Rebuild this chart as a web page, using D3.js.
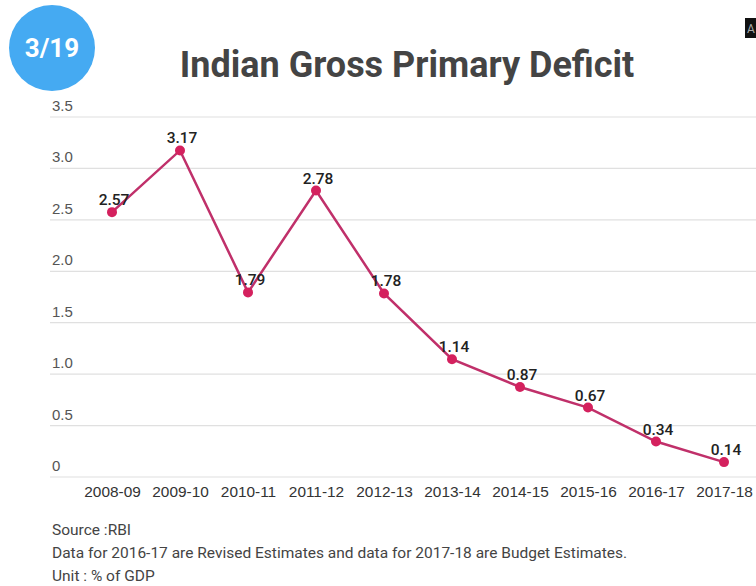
<!DOCTYPE html>
<html>
<head>
<meta charset="utf-8">
<script src="https://cdn.jsdelivr.net/npm/d3@7"></script>
<style>
  html, body { margin: 0; padding: 0; background: #fff; }
  svg { display: block; font-family: Roboto, "Noto Sans", sans-serif; }
</style>
</head>
<body>
<svg id="chart" width="756" height="586"></svg>
<script>
// Gross primary deficit of India, % of GDP
const years = ["2008-09", "2009-10", "2010-11", "2011-12", "2012-13",
               "2013-14", "2014-15", "2015-16", "2016-17", "2017-18"];
const deficit = [2.57, 3.17, 1.79, 2.78, 1.78, 1.14, 0.87, 0.67, 0.34, 0.14];
const yTicks = [0, 0.5, 1.0, 1.5, 2.0, 2.5, 3.0, 3.5];
const notes = [
  "Source :RBI",
  "Data for 2016-17 are Revised Estimates and data for 2017-18 are Budget Estimates.",
  "Unit : % of GDP"
];

const svg = d3.select("#chart");
const W = 756;

const x = d3.scalePoint().domain(years).range([112, 724]);
const y = d3.scaleLinear().domain([0, 3.5]).range([476.5, 116.5]);

// Badge
svg.append("circle").attr("cx", 52).attr("cy", 48).attr("r", 43).attr("fill", "#45aaf2");
svg.append("text").attr("x", 52).attr("y", 57).attr("text-anchor", "middle")
  .attr("fill", "#fff").attr("font-weight", 700).attr("font-size", 26).text("3/19");

// Small corner tag
svg.append("rect").attr("x", 745).attr("y", 18).attr("width", 11).attr("height", 20).attr("fill", "#111");
svg.append("text").attr("x", 747).attr("y", 33).attr("fill", "#aaa").attr("font-size", 12).text("A");

// Title
svg.append("text").attr("x", 407).attr("y", 77).attr("text-anchor", "middle")
  .attr("fill", "#444").attr("font-weight", 700).attr("font-size", 36)
  .text("Indian Gross Primary Deficit");

// Y axis: gridlines with labels sitting above them
const yAxis = d3.axisLeft(y).tickValues(yTicks).tickSize(-(W - 50))
  .tickFormat(d => d === 0 ? "0" : d3.format(".1f")(d));
const gy = svg.append("g").attr("transform", "translate(50,0)").call(yAxis);
gy.select(".domain").remove();
gy.selectAll(".tick line").attr("stroke", "#e0e0e0").attr("stroke-width", 1.2);
gy.selectAll(".tick text").attr("x", 2).attr("dy", "-0.4em")
  .attr("text-anchor", "start").attr("fill", "#555").attr("font-size", 15);

// X axis labels
const xAxis = d3.axisBottom(x).tickSize(0).tickPadding(0);
const gx = svg.append("g").attr("transform", "translate(0,483)").call(xAxis);
gx.select(".domain").remove();
gx.selectAll(".tick text").attr("fill", "#333").attr("font-size", 15.4).attr("dy", "0.9em");

// Line and points
const line = d3.line().x((d, i) => x(years[i])).y(d => y(d));
svg.append("path").datum(deficit).attr("d", line)
  .attr("fill", "none").attr("stroke", "#c0306a").attr("stroke-width", 2.5);
svg.selectAll(".pt").data(deficit).join("circle").attr("class", "pt")
  .attr("cx", (d, i) => x(years[i])).attr("cy", d => y(d)).attr("r", 5)
  .attr("fill", "#d4215e");

// Value labels
svg.selectAll(".val").data(deficit).join("text").attr("class", "val")
  .attr("x", (d, i) => x(years[i]) + 2).attr("y", d => y(d) - 7)
  .attr("text-anchor", "middle").attr("fill", "#222").attr("font-size", 15.5)
  .attr("font-weight", 500).text(d => d3.format(".2f")(d));

// Footer notes
svg.selectAll(".note").data(notes).join("text").attr("class", "note")
  .attr("x", 52).attr("y", (d, i) => 535 + i * 23)
  .attr("fill", "#444").attr("font-size", 15.5).text(d => d);
</script>
</body>
</html>
